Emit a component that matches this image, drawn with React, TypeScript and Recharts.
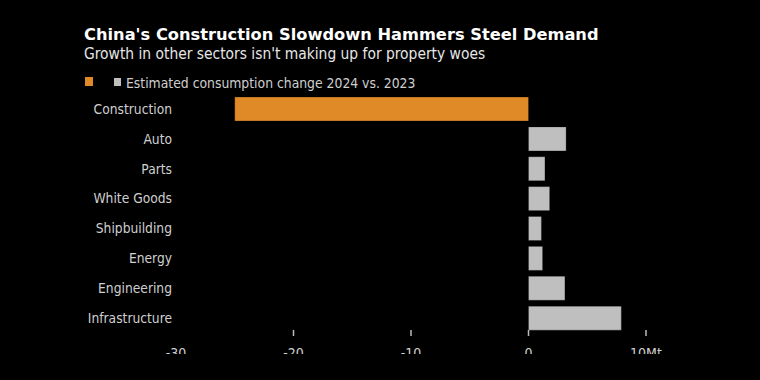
import { BarChart, Bar, XAxis, YAxis, Cell } from 'recharts';

const sectors = [
  'Construction',
  'Auto',
  'Parts',
  'White Goods',
  'Shipbuilding',
  'Energy',
  'Engineering',
  'Infrastructure',
];
const changeMt = [-25, 3.2, 1.4, 1.8, 1.1, 1.2, 3.1, 7.9];
const xTicks = [-30, -20, -10, 0, 10];
const highlighted = ['Construction'];

const data = sectors.map((sector, i) => ({ sector, change: changeMt[i] }));

const ORANGE = '#e08a27';
const GREY = '#bfbfbf';
const TEXT = '#cfcfcf';
const condensed = '"DejaVu Sans Condensed", "Liberation Sans Narrow", sans-serif';

function XTick({ x, y, payload }: any) {
  const v = payload.value;
  return (
    <g>
      {v !== -30 && <line x1={x} x2={x} y1={y - 3} y2={y + 3} stroke="#bbbbbb" strokeWidth={1.5} />}
      <text x={x} y={y + 25} textAnchor="middle" fill={TEXT} fontSize={14} fontFamily={condensed}>
        {v === 10 ? '10Mt' : v}
      </text>
    </g>
  );
}

export default function App() {
  return (
    <div
      style={{
        position: 'absolute',
        left: 0,
        top: 0,
        width: 760,
        height: 380,
        background: '#000',
        overflow: 'hidden',
      }}
    >
      {/* Title block */}
      <div
        style={{
          position: 'absolute',
          left: 84,
          top: 25,
          color: '#fff',
          fontFamily: '"DejaVu Sans", sans-serif',
          fontWeight: 700,
          fontSize: 16.25,
          lineHeight: '20px',
          whiteSpace: 'nowrap',
        }}
      >
        China's Construction Slowdown Hammers Steel Demand
      </div>
      <div
        style={{
          position: 'absolute',
          left: 84,
          top: 44,
          color: '#e6e6e6',
          fontFamily: condensed,
          fontSize: 15.4,
          lineHeight: '20px',
          whiteSpace: 'nowrap',
        }}
      >
        Growth in other sectors isn't making up for property woes
      </div>

      {/* Legend */}
      <div style={{ position: 'absolute', left: 85, top: 77, width: 8, height: 9, background: ORANGE }} />
      <div style={{ position: 'absolute', left: 114, top: 78, width: 7, height: 8, background: GREY }} />
      <div
        style={{
          position: 'absolute',
          left: 126,
          top: 73,
          color: TEXT,
          fontFamily: condensed,
          fontSize: 13.8,
          lineHeight: '20px',
          whiteSpace: 'nowrap',
        }}
      >
        Estimated consumption change 2024 vs. 2023
      </div>

      {/* Chart, clipped at the bottom like the original */}
      <div style={{ position: 'absolute', left: 0, top: 0, width: 760, height: 354, overflow: 'hidden' }}>
        <BarChart
          width={760}
          height={380}
          data={data}
          layout="vertical"
          margin={{ top: 94, right: 114, bottom: 0, left: 0 }}
          barSize={24}
        >
          <XAxis
            type="number"
            domain={[-30, 10]}
            ticks={xTicks}
            axisLine={false}
            tickLine={false}
            tickSize={0}
            tickMargin={0}
            height={47}
            tick={<XTick />}
            interval={0}
          />
          <YAxis
            type="category"
            dataKey="sector"
            width={176}
            axisLine={false}
            tickLine={false}
            tickSize={0}
            tickMargin={4}
            interval={0}
            tick={{ fill: TEXT, fontSize: 13.7, fontFamily: condensed }}
          />
          <Bar dataKey="change" isAnimationActive={false} stroke="#000" strokeOpacity={0.25} strokeWidth={1}>
            {data.map((d) => (
              <Cell key={d.sector} fill={highlighted.includes(d.sector) ? ORANGE : GREY} />
            ))}
          </Bar>
        </BarChart>
      </div>
    </div>
  );
}
